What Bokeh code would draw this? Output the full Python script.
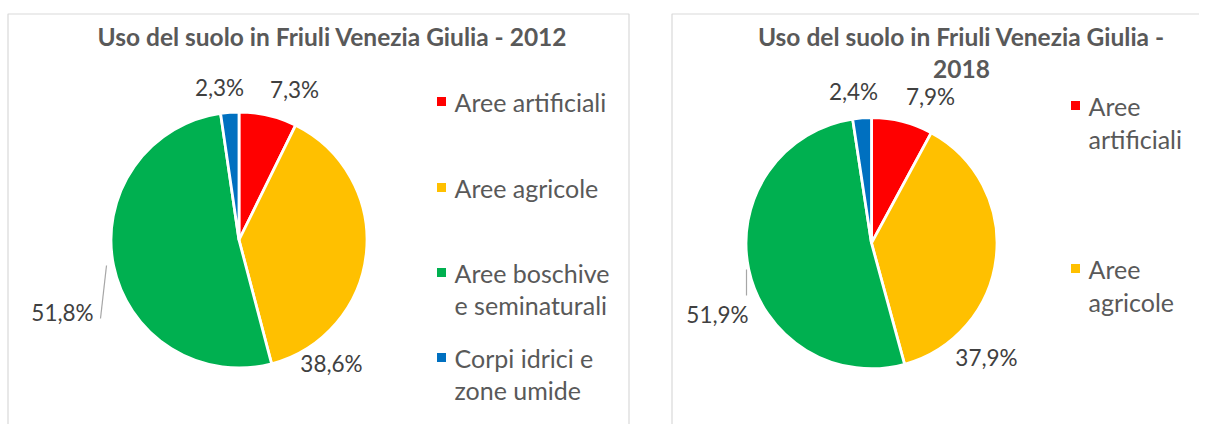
import math
from bokeh.plotting import figure
from bokeh.models import Range1d
from bokeh.core.properties import value
from bokeh.embed import file_html
from bokeh.resources import INLINE

# ---- data ----
categories = ["Aree artificiali", "Aree agricole", "Aree boschive e seminaturali", "Corpi idrici e zone umide"]
values_2012 = [7.3, 38.6, 51.8, 2.3]
values_2018 = [7.9, 37.9, 51.9, 2.4]
labels_2012 = ["7,3%", "38,6%", "51,8%", "2,3%"]
labels_2018 = ["7,9%", "37,9%", "51,9%", "2,4%"]
legend_2012 = [["Aree artificiali"], ["Aree agricole"], ["Aree boschive", "e seminaturali"], ["Corpi idrici e", "zone umide"]]
legend_2018 = [["Aree", "artificiali"], ["Aree", "agricole"]]
title_2012 = ["Uso del suolo in Friuli Venezia Giulia - 2012"]
title_2018 = ["Uso del suolo in Friuli Venezia Giulia -", "2018"]
colors = ["#FF0000", "#FFC000", "#00B050", "#0070C0"]

W, H = 1199, 424
FONT = "Lato"
TXT = "#595959"
LBL = "#404040"

p = figure(width=W, height=H, output_backend="svg", toolbar_location=None,
           x_range=Range1d(0, W), y_range=Range1d(0, H),
           x_axis_type=None, y_axis_type=None, min_border=0)
p.outline_line_color = None
p.grid.visible = False
p.background_fill_color = "white"
p.border_fill_color = "white"


def Y(ypx):
    return H - ypx


def draw_pie(vals, cx, cy, r):
    total = sum(vals)
    starts, ends = [], []
    a = math.pi / 2
    for v in vals:
        starts.append(a)
        a = a - 2 * math.pi * v / total
        ends.append(a)
    p.wedge(x=[cx] * len(vals), y=[Y(cy)] * len(vals), radius=r,
            start_angle=starts, end_angle=ends, direction="clock",
            fill_color=colors[:len(vals)], line_color="white", line_width=2.8)


# panel borders
p.quad(left=[7.5], right=[628.5], top=[Y(13.5)], bottom=[-20], fill_color=None, line_color="#D9D9D9", line_width=1.2)
p.quad(left=[671.5], right=[1260], top=[Y(13.5)], bottom=[-20], fill_color=None, line_color="#D9D9D9", line_width=1.2)

# pies
draw_pie(values_2012, 238.5, 239.5, 128)
draw_pie(values_2018, 871, 242.7, 125.5)

# titles
p.text(x=[332], y=[Y(36)], text=title_2012, text_font=value(FONT), text_font_style="bold",
       text_font_size="24.5px", text_color=TXT, text_align="center", text_baseline="middle")
p.text(x=[961, 961], y=[Y(36), Y(68)], text=title_2018, text_font=value(FONT), text_font_style="bold",
       text_font_size="24.5px", text_color=TXT, text_align="center", text_baseline="middle")

# data labels (positions: layout)
pos_2012 = [(294, 89), (331, 363), (62, 312), (219, 87)]
pos_2018 = [(930, 96), (986, 357), (717, 314), (853, 91)]
p.text(x=[q[0] for q in pos_2012], y=[Y(q[1]) for q in pos_2012], text=labels_2012,
       text_font=value(FONT), text_font_size="22.5px", text_color=LBL, text_align="center", text_baseline="middle")
p.text(x=[q[0] for q in pos_2018], y=[Y(q[1]) for q in pos_2018], text=labels_2018,
       text_font=value(FONT), text_font_size="22.5px", text_color=LBL, text_align="center", text_baseline="middle")

# leader lines
p.segment(x0=[100], y0=[Y(318)], x1=[106], y1=[Y(265)], line_color="#A6A6A6", line_width=1.2)
p.segment(x0=[746], y0=[Y(269)], x1=[746], y1=[Y(295)], line_color="#A6A6A6", line_width=1.2)

# legends
def draw_legend(items, sx, tx, ys, line_gap):
    for i, (lines, yy) in enumerate(zip(items, ys)):
        p.rect(x=[sx], y=[Y(yy)], width=9, height=9, fill_color=colors[i], line_color=None)
        p.text(x=[tx] * len(lines), y=[Y(yy + k * line_gap) for k in range(len(lines))], text=lines,
               text_font=value(FONT), text_font_size="25px", text_color=TXT,
               text_align="left", text_baseline="middle")

draw_legend(legend_2012, 441, 454, [101, 187, 272, 357], 32)
draw_legend(legend_2018, 1075, 1088, [105, 268], 33)

open("out.html", "w").write(file_html(p, INLINE))
